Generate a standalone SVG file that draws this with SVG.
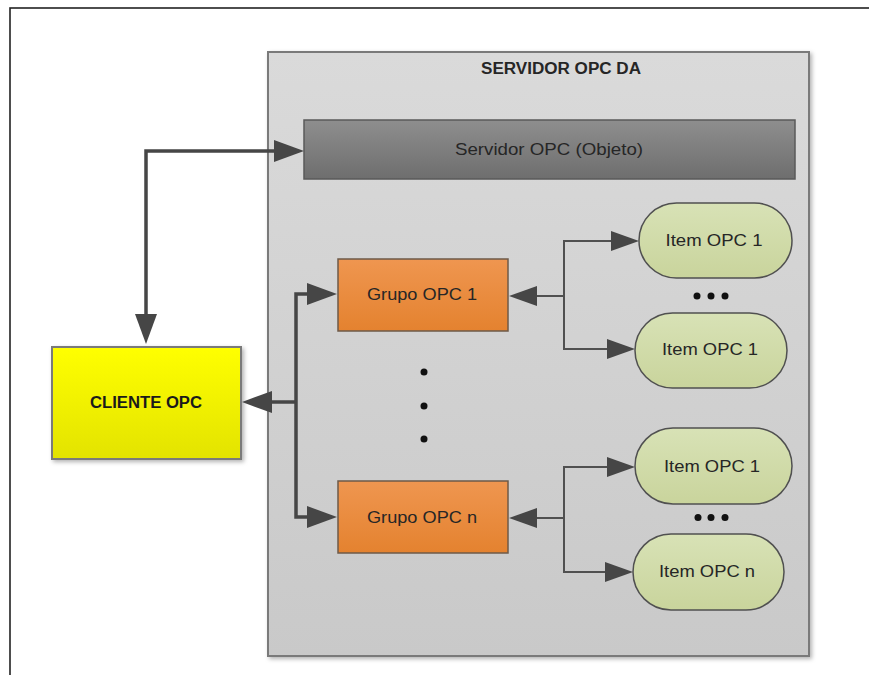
<svg xmlns="http://www.w3.org/2000/svg" width="869" height="675" viewBox="0 0 869 675">
<style>
text{font-family:"Liberation Sans",Arial,sans-serif;text-anchor:middle;fill:#262626}
.t16{font-size:16px}
.b{font-weight:bold}
.conThick{fill:none;stroke:#464646;stroke-width:3.5}
.conThin{fill:none;stroke:#505050;stroke-width:2}
.dot{fill:#111}
</style>
<defs>
<linearGradient id="gSrv" x1="0" y1="0" x2="0" y2="1"><stop offset="0" stop-color="#dadada"/><stop offset="1" stop-color="#c9c9c9"/></linearGradient>
<linearGradient id="gObj" x1="0" y1="0" x2="0" y2="1"><stop offset="0" stop-color="#8e8e8e"/><stop offset="1" stop-color="#6e6e6e"/></linearGradient>
<linearGradient id="gCli" x1="0" y1="0" x2="0" y2="1"><stop offset="0" stop-color="#ffff00"/><stop offset="1" stop-color="#e3e300"/></linearGradient>
<linearGradient id="gGrp" x1="0" y1="0" x2="0" y2="1"><stop offset="0" stop-color="#ef9650"/><stop offset="1" stop-color="#e4822f"/></linearGradient>
<linearGradient id="gItm" x1="0" y1="0" x2="0" y2="1"><stop offset="0" stop-color="#d8e2b6"/><stop offset="1" stop-color="#c9d49c"/></linearGradient>
<filter id="sh" x="-10%" y="-10%" width="130%" height="130%"><feDropShadow dx="2" dy="2" stdDeviation="2" flood-color="#000" flood-opacity="0.3"/></filter>
<marker id="aBig" markerUnits="userSpaceOnUse" markerWidth="30" markerHeight="22" refX="0" refY="11" orient="auto-start-reverse" viewBox="0 0 30 22"><path d="M0,0 L30,11 L0,22 z" fill="#464646"/></marker>
<marker id="aSm" markerUnits="userSpaceOnUse" markerWidth="28" markerHeight="20" refX="0" refY="10" orient="auto-start-reverse" viewBox="0 0 28 20"><path d="M0,0 L28,10 L0,20 z" fill="#464646"/></marker>
</defs>
<rect x="0" y="0" width="869" height="675" fill="#fff"/>
<rect id="frame" x="10" y="8" width="900" height="700" fill="none" stroke="#222" stroke-width="1.6"/>

<g id="servidor-opc-da">
<rect x="268" y="52" width="541" height="604" fill="url(#gSrv)" stroke="#7a7a7a" stroke-width="2" filter="url(#sh)"/>
<text class="t16 b" x="561" y="74" textLength="160" lengthAdjust="spacingAndGlyphs">SERVIDOR OPC DA</text>
</g>

<g id="servidor-objeto">
<rect x="304" y="120" width="491" height="59" fill="url(#gObj)" stroke="#5a5a5a" stroke-width="1.5"/>
<text class="t16" x="549" y="155" textLength="188" lengthAdjust="spacingAndGlyphs" style="font-size:17px">Servidor OPC (Objeto)</text>
</g>

<g id="cliente-opc">
<rect x="52" y="347" width="189" height="112" fill="url(#gCli)" stroke="#7a7a7a" stroke-width="2" filter="url(#sh)"/>
<text class="t16 b" x="146" y="408" textLength="112" lengthAdjust="spacingAndGlyphs" style="fill:#1a1a1a">CLIENTE OPC</text>
</g>

<g id="grupo-opc-1">
<rect x="338" y="259" width="170" height="72" fill="url(#gGrp)" stroke="#6e5a48" stroke-width="1.5"/>
<text class="t16" x="422" y="300" textLength="110" lengthAdjust="spacingAndGlyphs" style="font-size:17px">Grupo OPC 1</text>
</g>

<g id="grupo-opc-n">
<rect x="338" y="481" width="170" height="72" fill="url(#gGrp)" stroke="#6e5a48" stroke-width="1.5"/>
<text class="t16" x="422" y="523" textLength="110" lengthAdjust="spacingAndGlyphs" style="font-size:17px">Grupo OPC n</text>
</g>

<g id="item-1a">
<rect x="639" y="203" width="153" height="75" rx="37.5" fill="url(#gItm)" stroke="#505050" stroke-width="1.5"/>
<text class="t16" x="714" y="246" textLength="97" lengthAdjust="spacingAndGlyphs" style="font-size:17px">Item OPC 1</text>
</g>
<g id="item-1b">
<rect x="635" y="313" width="152" height="75" rx="37.5" fill="url(#gItm)" stroke="#505050" stroke-width="1.5"/>
<text class="t16" x="710" y="355" textLength="96" lengthAdjust="spacingAndGlyphs" style="font-size:17px">Item OPC 1</text>
</g>
<g id="item-1c">
<rect x="635" y="428" width="157" height="76" rx="38" fill="url(#gItm)" stroke="#505050" stroke-width="1.5"/>
<text class="t16" x="712" y="472" textLength="96" lengthAdjust="spacingAndGlyphs" style="font-size:17px">Item OPC 1</text>
</g>
<g id="item-n">
<rect x="633" y="534" width="151" height="76" rx="38" fill="url(#gItm)" stroke="#505050" stroke-width="1.5"/>
<text class="t16" x="707" y="577" textLength="96" lengthAdjust="spacingAndGlyphs" style="font-size:17px">Item OPC n</text>
</g>

<g id="ellipsis">
<circle class="dot" cx="424" cy="372" r="3.5"/>
<circle class="dot" cx="424" cy="406" r="3.5"/>
<circle class="dot" cx="424" cy="439" r="3.5"/>
<circle class="dot" cx="697" cy="296" r="3.5"/>
<circle class="dot" cx="711" cy="296" r="3.5"/>
<circle class="dot" cx="725" cy="296" r="3.5"/>
<circle class="dot" cx="698" cy="517.5" r="3.5"/>
<circle class="dot" cx="711" cy="517.5" r="3.5"/>
<circle class="dot" cx="725" cy="517.5" r="3.5"/>
</g>

<g id="connectors">
<path class="conThick" d="M146,314 L146,151 L274,151" marker-start="url(#aBig)" marker-end="url(#aBig)"/>
<path class="conThick" d="M272,402 L296,402" marker-start="url(#aBig)"/>
<path class="conThick" d="M307,294 L296,294 L296,517 L307,517" marker-start="url(#aBig)" marker-end="url(#aBig)"/>
<path class="conThin" d="M537,296 L564,296" marker-start="url(#aSm)"/>
<path class="conThin" d="M611,241 L564,241 L564,349 L607,349" marker-start="url(#aSm)" marker-end="url(#aSm)"/>
<path class="conThin" d="M537,518 L564,518" marker-start="url(#aSm)"/>
<path class="conThin" d="M607,467 L564,467 L564,572 L605,572" marker-start="url(#aSm)" marker-end="url(#aSm)"/>
</g>
</svg>
